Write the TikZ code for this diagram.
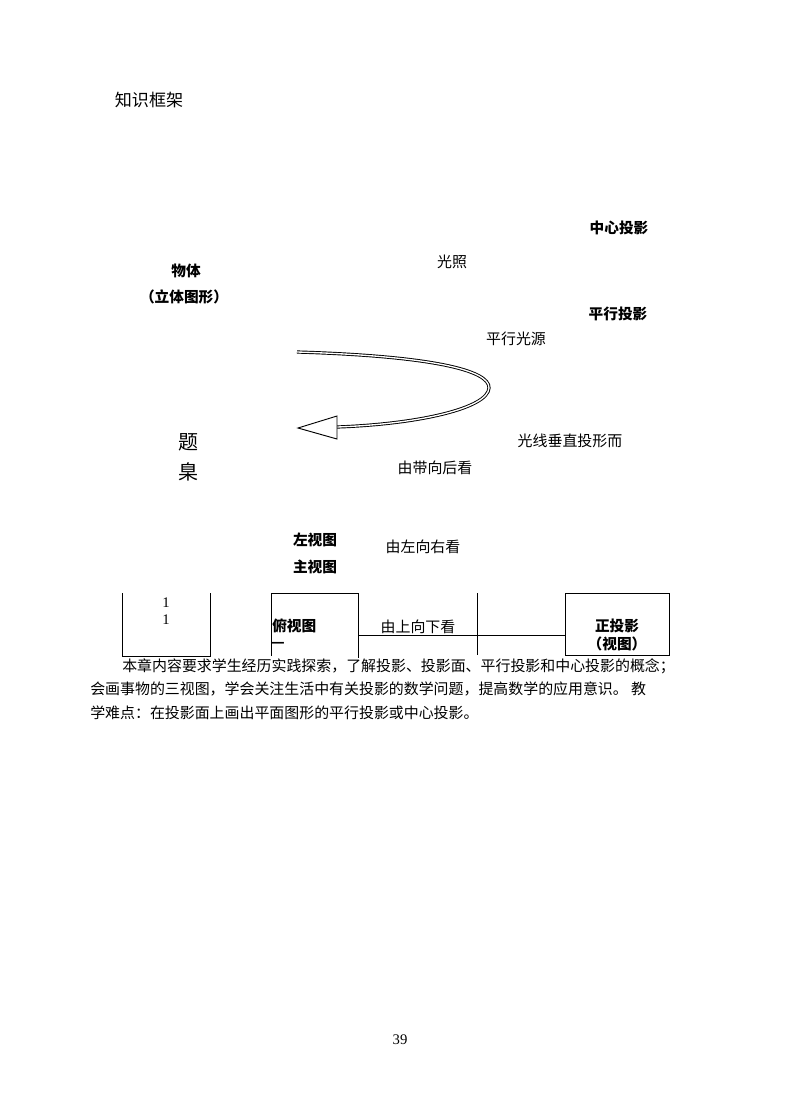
\documentclass[tikz,border=0pt]{standalone}
\usepackage{fontspec}
\setmainfont{Liberation Serif}
\newfontfamily\cjk{Noto Sans CJK SC}
\usetikzlibrary{positioning}

\begin{document}
\begin{tikzpicture}[x = 0.75pt, y = -0.75pt, on grid, node distance = 20pt, note/.style = {inner sep = 0pt, font = \cjk\fontsize{11.2}{13}\selectfont}, term/.style = {note, font = \cjk\bfseries\fontsize{11}{13}\selectfont}, frame/.style = {draw, line width = 0.7pt}, shaft/.style = {draw = black, line width = 0.7pt, double = white, double distance = 1pt}]
\useasboundingbox (0,0) rectangle (800,1108);

\node[note, font = \cjk\fontsize{12.8}{15}\selectfont] (title) at (149,100) {知识框架};

% upper part
\node[term] (center) at (619,228) {中心投影};
\node[note] (light) at (452,262) {光照};
\node[term] (object) at (186,271) {物体};
\node[term, below = 19.5pt of object, xshift = -1.5pt] (solid) {（立体图形）};
\node[term] (parallel) at (618,314) {平行投影};
\node[note] (source) at (516,339) {平行光源};

% hollow arrow
\coordinate (arrowstart) at (297,352);
\coordinate (turn) at (489,388);
\coordinate (arrowbase) at (337,427);
\coordinate (arrowtip) at (298,428);
\path[shaft] (arrowstart) .. controls (430,356) and (490,370) .. (turn) .. controls (488,408) and (420,424) .. (arrowbase);
\draw[black, line width = 0.7pt, fill = white] (arrowtip) -- (337,416) -- (337,439) -- cycle;

\node[note, font = \cjk\fontsize{15}{17}\selectfont] (ti) at (188,442) {题};
\node[note, font = \cjk\fontsize{15}{17}\selectfont, below = 22.5pt of ti] (nie) {臬};
\node[note] (vertical) at (570,441) {光线垂直投形而};
\node[note] (front) at (435,468) {由带向后看};

\node[term] (left) at (315,540) {左视图};
\node[term, below = 20.25pt of left] (main) {主视图};
\node[note] (lefttoright) at (423,547) {由左向右看};

% lower boxes
\draw[frame] (122,593) coordinate (lb1) -- (122,656) -- (210,656) -- (210,593) coordinate (lb2);
\node[inner sep = 0pt, font = \fontsize{11}{13}\selectfont] (one1) at (166,603) {1};
\node[inner sep = 0pt, font = \fontsize{11}{13}\selectfont, below = 12.75pt of one1] (one2) {1};

\draw[frame] (271,656) -- (271,593) coordinate (mb1) -- (358,593) -- (358,658) coordinate (mb2);
\node[term, anchor = west] (top) at (272,626) {俯视图};
\node[term, anchor = west] (dash) at (271,645) {—};
\node[note] (downward) at (418,627) {由上向下看};

\draw[frame] (477,593) coordinate (split) -- (477,655);
\node[frame, minimum width = 77.5pt, minimum height = 46.5pt] (ortho) at (617.5,624) {};
\node[term] (orthoname) at (617,626) {正投影};
\node[term, below = 13.5pt of orthoname] (view) {（视图）};
\coordinate (midright) at (358,635);
\draw[frame] (midright) -- (ortho.west |- midright);

% text
\node[note, anchor = west] (line1) at (122,666) {本章内容要求学生经历实践探索，了解投影、投影面、平行投影和中心投影的概念；};
\node[note, anchor = west] (line2) at (90,689) {会画事物的三视图，学会关注生活中有关投影的数学问题，提高数学的应用意识。 教};
\node[note, anchor = west] (line3) at (90,713) {学难点：在投影面上画出平面图形的平行投影或中心投影。};

\node[inner sep = 0pt, font = \fontsize{11}{13}\selectfont] (page) at (400,1040) {39};
\end{tikzpicture}
\end{document}
